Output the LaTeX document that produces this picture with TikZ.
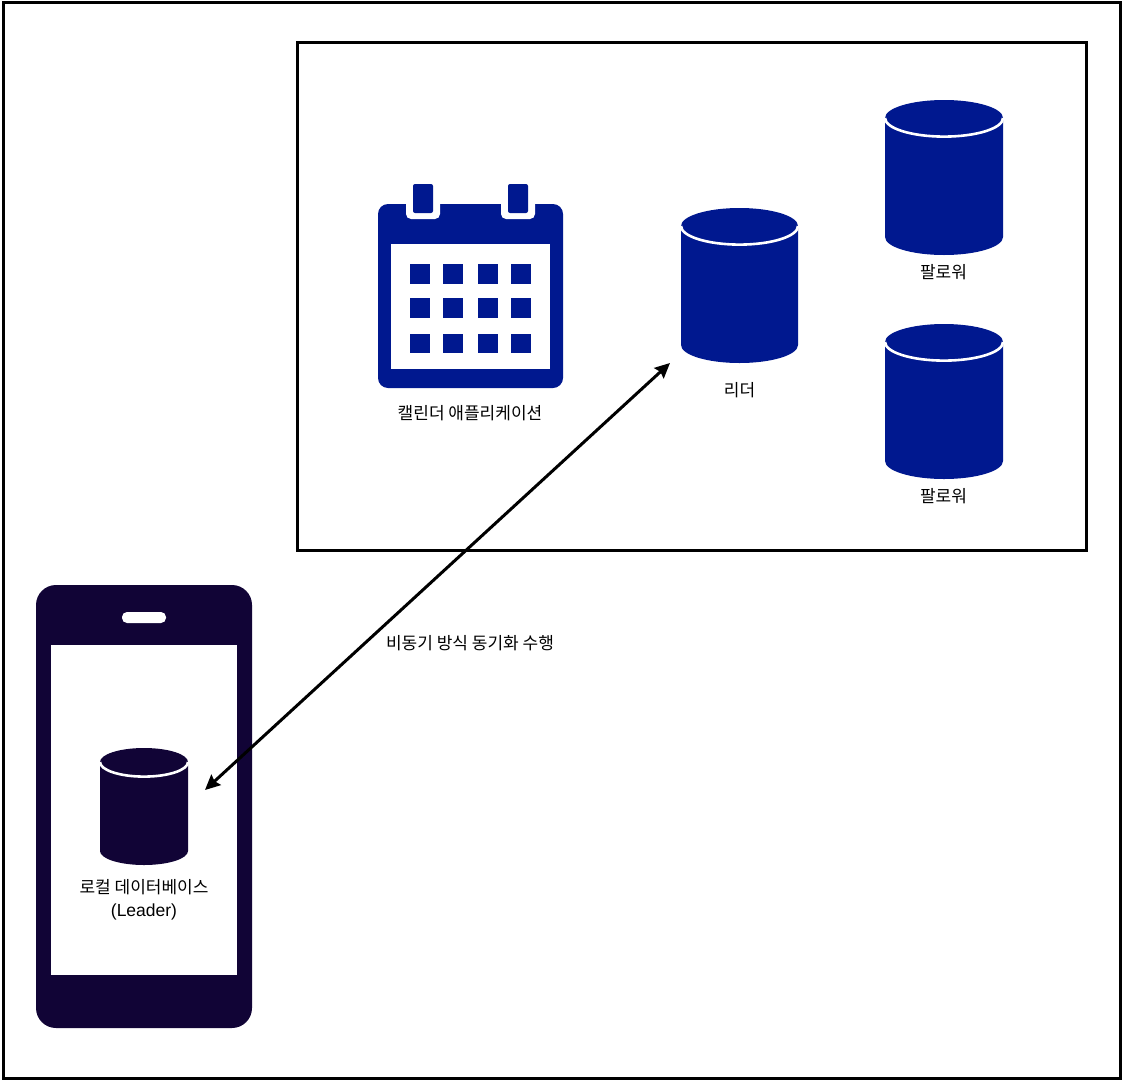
\documentclass[tikz,border=0pt]{standalone}
\usepackage{fontspec}
\setmainfont{Noto Sans CJK KR}
\newfontfamily\latinfont{Liberation Sans}
\usetikzlibrary{arrows.meta}
\definecolor{navy}{HTML}{00188F}
\definecolor{phonedark}{HTML}{110436}
\tikzset{
  frame/.style={draw=black,line width=3pt,fill=none},
  lbl/.style={font=\fontsize{17}{23}\selectfont,text=black,inner sep=0pt,align=center},
  link/.style={draw=black,line width=3pt,{Stealth[length=15pt,width=14pt,inset=2pt]}-{Stealth[length=15pt,width=14pt,inset=2pt]}},
  sq/.style={fill=navy,draw=none},
  rim/.style={draw=white,line width=2.6pt,line cap=butt}
}
% #1 left, #2 right, #3 top, #4 bottom, #5 ry, #6 colour
\newcommand{\dbcyl}[6]{%
  \pgfmathsetmacro{\rx}{(#2-#1)/2}%
  \pgfmathsetmacro{\cx}{(#2+#1)/2}%
  \pgfmathsetmacro{\cyt}{#3+#5}%
  \pgfmathsetmacro{\cyb}{#4-#5}%
  \fill[#6] (#1,\cyt) -- (#2,\cyt)
     -- (#2,\cyb) arc[x radius=\rx,y radius=#5,start angle=0,end angle=180] -- cycle;
  \fill[#6] (\cx,\cyt) ellipse[x radius=\rx,y radius=#5];
  \draw[rim] (#1,\cyt) arc[x radius=\rx,y radius=#5+0.6,start angle=180,end angle=0];
}
\begin{document}
\begin{tikzpicture}[x=1pt,y=-1pt]
\useasboundingbox (0,0) rectangle (1123,1081);
\fill[white] (0,0) rectangle (1123,1081);
\node[frame,minimum width=1117pt,minimum height=1075pt,inner sep=0pt] (outer) at (561.5,540.5) {};
\node[frame,minimum width=789pt,minimum height=507pt,inner sep=0pt] (server) at (691.5,296.5) {};

% calendar
\fill[navy,rounded corners=10pt] (378,204) rectangle (563,388);
\fill[white,rounded corners=5pt] (406,195) rectangle (440,219);
\fill[white,rounded corners=5pt] (501,195) rectangle (535,219);
\fill[white] (406,190) rectangle (440,204);
\fill[white] (501,190) rectangle (535,204);
\fill[navy,rounded corners=2pt] (413,184) -- (433,184) -- (433,213) -- (413,213) -- cycle;
\fill[navy,rounded corners=2pt] (508,184) -- (528,184) -- (528,213) -- (508,213) -- cycle;
\fill[white] (391,244) rectangle (550,369);
\foreach \ya/\yb in {264/284,298/318,334/353}{
  \foreach \xa/\xb in {410/430,443/463,478/498,511/531}{
    \fill[sq] (\xa,\ya) rectangle (\xb,\yb);
  }
}
\node[lbl] (calLabel) at (470,413) {캘린더 애플리케이션};

% databases
\dbcyl{681}{798}{208}{363}{18}{navy}
\node[lbl] (leaderLabel) at (739.5,390) {리더};
\dbcyl{885}{1003}{100}{255}{18}{navy}
\node[lbl] (followerA) at (943.5,272) {팔로워};
\dbcyl{885}{1003}{324}{479}{18}{navy}
\node[lbl] (followerB) at (943.5,496) {팔로워};

% phone
\fill[phonedark,rounded corners=20pt] (36,585) rectangle (252,1028);
\fill[white] (51,645) rectangle (237,975);
\fill[white,rounded corners=5pt] (122,612) rectangle (166,623);
\dbcyl{100}{188}{748}{865}{14}{phonedark}
\node[lbl] (localLabel) at (144,899.5) {로컬 데이터베이스\\{\fontsize{17.5}{23}\selectfont\latinfont (Leader)}};

% connector
\coordinate (endLocal) at (205,790);
\coordinate (endLeader) at (670,363);
\draw[link] (endLocal) -- (endLeader);
\node[lbl] (syncLabel) at (470,643) {비동기 방식 동기화 수행};
\end{tikzpicture}
\end{document}
